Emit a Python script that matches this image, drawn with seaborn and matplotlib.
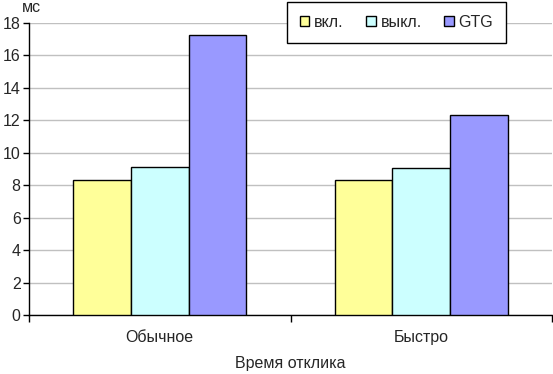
import numpy as np
import pandas as pd
import matplotlib.pyplot as plt
import seaborn as sns

categories = ['Обычное', 'Быстро']
series = ['вкл.', 'выкл.', 'GTG']
vkl = [8.35, 8.30]
vykl = [9.15, 9.04]
gtg = [17.24, 12.31]
colors = ['#FFFF99', '#CCFFFF', '#9999FF']

df = pd.DataFrame({
    'cat': categories * 3,
    'series': [s for s in series for _ in categories],
    'value': vkl + vykl + gtg,
})

sns.set_style('white')
plt.rcParams['font.family'] = ['Liberation Sans', 'DejaVu Sans']
fs = 11.5

fig = plt.figure(figsize=(5.53, 3.74), dpi=100)
ax = fig.add_axes([29 / 553, 1 - 315 / 374, 523 / 553, 292 / 374])

sns.barplot(data=df, x='cat', y='value', hue='series', palette=colors,
            width=0.66, edgecolor='black', linewidth=1, saturation=1,
            ax=ax, zorder=3)

ax.set_ylim(0, 18)
ax.set_xlim(-0.5, 1.5)
ax.set_yticks(np.arange(0, 19, 2))
ax.yaxis.grid(True, color='#C0C0C0', linewidth=1, zorder=0)
ax.set_axisbelow(True)
for s in ['top', 'right']:
    ax.spines[s].set_visible(False)
for s in ['left', 'bottom']:
    ax.spines[s].set_color('black')
    ax.spines[s].set_linewidth(1)

ax.tick_params(axis='y', length=4, width=1, color='black', labelsize=fs, pad=2, left=True)
ax.tick_params(axis='x', which='major', length=0, labelsize=fs, pad=11)
ax.set_xticks([-0.5, 0.5, 1.5], minor=True)
ax.tick_params(axis='x', which='minor', length=5, width=1, color='black', bottom=True)

ax.set_xlabel('Время отклика', fontsize=fs, labelpad=8)
ax.set_ylabel('')
fig.text(22 / 553, 1 - 7 / 374, 'мс', fontsize=fs, ha='left', va='center')

handles, labels = ax.get_legend_handles_labels()
ax.legend_.remove()
leg = fig.legend(handles, labels, ncol=3, loc='center',
                 bbox_to_anchor=((289 + 504) / 2 / 553, 1 - 22.5 / 374),
                 frameon=True, fancybox=False, edgecolor='black', framealpha=1,
                 handlelength=0.6, handleheight=0.6, handletextpad=0.3,
                 columnspacing=1.4, borderpad=0.8, borderaxespad=0,
                 fontsize=fs)
leg.get_frame().set_linewidth(1)

fig.savefig('out.png', dpi=100)
